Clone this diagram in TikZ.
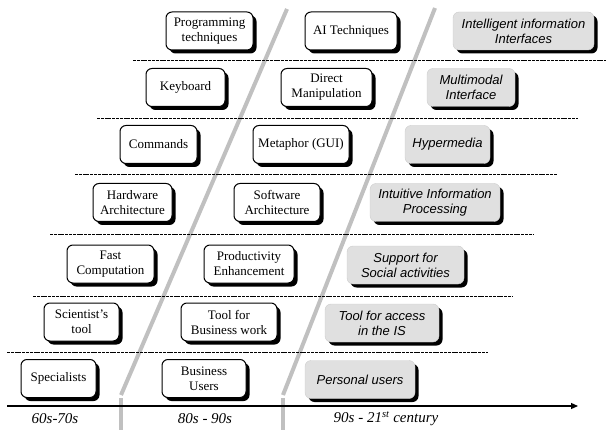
\documentclass[tikz,border=0pt]{standalone}
\usepackage{fontspec}
\setmainfont{Liberation Serif}
\newfontfamily\arialfont{Liberation Sans}
\usepackage{tikz}
\usetikzlibrary{arrows.meta}
\usetikzlibrary{shadows}
\usepackage{xcolor}
\definecolor{bargray}{HTML}{C0C0C0}
\definecolor{boxgray}{HTML}{E0E0E0}

\tikzset{
  era/.style={rounded corners=6pt, inner sep=2pt, minimum height=38pt, align=center,
    drop shadow={shadow xshift=3.5pt, shadow yshift=-3.5pt, fill=black, opacity=1}},
  oldbox/.style={era, draw=black, line width=1pt, fill=white,
    font=\fontsize{13}{15}\selectfont},
  newbox/.style={era, draw=gray!40, line width=0.4pt, fill=boxgray,
    font=\arialfont\itshape\fontsize{13}{15}\selectfont},
  rowline/.style={black, line width=0.7pt, dash pattern=on 3pt off 0.8pt},
  divider/.style={bargray, line width=4pt},
  period/.style={font=\itshape\fontsize{15}{17}\selectfont}
}

\begin{document}
\begin{tikzpicture}[x=1pt, y=-1pt]
\useasboundingbox (0,0) rectangle (607,430);
% gray dividers between the periods
\draw[divider] (287,9)--(121,395);
\draw[divider] (121,398)--(121,430);
\draw[divider] (435,8)--(283,395);
\draw[divider] (283,398)--(283,430);
% row separators
\draw[rowline] (133,60)--(606,60);
\draw[rowline] (97,118)--(578,118);
\draw[rowline] (75,174)--(557,174);
\draw[rowline] (50,234)--(533,234);
\draw[rowline] (33,296)--(513,296);
\draw[rowline] (7,352)--(488,352);
% row 1
\node[oldbox, minimum width=87pt] (prog) at (209.5,31) {Programming\\techniques};
\node[oldbox, minimum width=92pt] (ai) at (351,31) {AI Techniques};
\node[newbox, minimum width=141pt] (intel) at (523.5,31) {Intelligent information\\Interfaces};
% row 2
\node[oldbox, minimum width=79pt] (keyb) at (185.5,87.5) {Keyboard};
\node[oldbox, minimum width=91pt] (direct) at (326.5,87.5) {Direct\\Manipulation};
\node[newbox, minimum width=88pt] (multi) at (471,87.5) {Multimodal\\Interface};
% row 3
\node[oldbox, minimum width=77pt] (cmd) at (158.5,144.5) {Commands};
\node[oldbox, minimum width=96pt] (meta) at (301,144.5) {Metaphor (GUI)};
\node[newbox, minimum width=85pt] (hyper) at (447.5,144.5) {Hypermedia};
% row 4
\node[oldbox, minimum width=79pt] (hw) at (132.5,202.5) {Hardware\\Architecture};
\node[oldbox, minimum width=86pt] (sw) at (277,202.5) {Software\\Architecture};
\node[newbox, minimum width=130pt] (intu) at (435,202.5) {Intuitive Information\\Processing};
% row 5
\node[oldbox, minimum width=87pt] (fast) at (110.5,264) {Fast\\Computation};
\node[oldbox, minimum width=90pt] (prod) at (249,264) {Productivity\\Enhancement};
\node[newbox, minimum width=117pt] (supp) at (405.5,265) {Support for\\Social activities};
% row 6
\node[oldbox, minimum width=75pt] (sci) at (81.5,322) {Scientist’s\\tool};
\node[oldbox, minimum width=96pt] (bus) at (229,322) {Tool for\\Business work};
\node[newbox, minimum width=114pt] (acc) at (382,323) {Tool for access\\in the IS};
% row 7
\node[oldbox, minimum width=75pt] (spec) at (58.5,378.5) {Specialists};
\node[oldbox, minimum width=84pt] (busu) at (204,378.5) {Business\\Users};
\node[newbox, minimum width=110pt] (pers) at (360,379.5) {Personal users};
% time axis
\coordinate (t0) at (7,406);
\coordinate (t1) at (578,406);
\draw[line width=1.2pt, -{Triangle[length=7pt, width=6pt]}] (t0)--(t1);
\node[period] (p1) at (55,419) {60s-70s};
\node[period] (p2) at (205,419) {80s - 90s};
\node[period] (p3) at (386,419) {90s - 21\textsuperscript{st} century};
\end{tikzpicture}
\end{document}
